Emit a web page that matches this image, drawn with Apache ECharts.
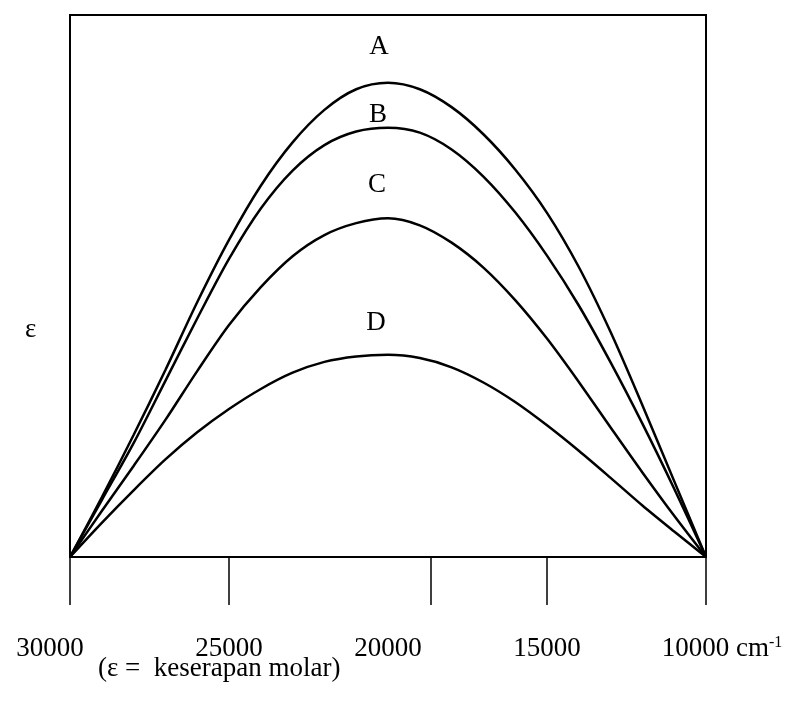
<!DOCTYPE html>
<html>
<head>
<meta charset="utf-8">
<script src="https://cdn.jsdelivr.net/npm/echarts@6/dist/echarts.min.js"></script>
<style>
  html, body { margin: 0; padding: 0; background: #fff; }
  #main { width: 793px; height: 706px; }
</style>
</head>
<body>
<div id="main"></div>
<script>
// bilangan gelombang (cm-1), sumbu x dibalik: 30000 di kiri
var wavenumbers = [30000, 29000, 28000, 27000, 26000, 25000, 24000, 23000, 22000, 21000, 20000,
  19000, 18000, 17000, 16000, 15000, 14000, 13000, 12000, 11000, 10000];
// nilai epsilon (skala relatif)
var curveA = [0, 11, 22.5, 34.5, 47, 58.5, 68.5, 76.5, 82.5, 86.3, 87.5, 86.3, 83, 78, 71.5, 63.5, 53.5, 41.5, 28, 14, 0];
var curveB = [0, 10.5, 21, 32.5, 44, 55, 64.3, 71.3, 76, 78.5, 79.2, 78.3, 75.2, 70.2, 63.6, 55.6, 46.4, 35.9, 24.6, 12.6, 0];
var curveC = [0, 8.5, 16.8, 25.3, 34.3, 42.8, 49.8, 55.5, 59.4, 61.6, 62.5, 61.2, 58, 53.4, 47.4, 40.3, 32.3, 23.9, 15.6, 7.6, 0];
var curveD = [0, 6.3, 12.3, 18, 23, 27.3, 31, 34, 36, 37, 37.3, 36.7, 35, 32.2, 28.6, 24.3, 19.6, 14.6, 9.5, 4.7, 0];
var curveNames = ['A', 'B', 'C', 'D'];
var tickValues = [30000, 25000, 18650, 15000, 10000];
var labelValues = [30000, 25000, 20000, 15000, 10000];

var font = 'Liberation Serif, Times New Roman, serif';
var chart = echarts.init(document.getElementById('main'));

// geser label huruf di atas puncak kurva
var labelOffsets = [[-9, -17], [-10, 6], [-11, -14], [-12, -13]];

function makeSeries(name, values, idx) {
  var data = wavenumbers.map(function (w, i) {
    var item = { value: [w, values[i]] };
    if (w === 20000) {
      item.label = {
        show: true,
        formatter: name,
        position: 'top',
        offset: labelOffsets[idx],
        color: '#000',
        fontFamily: font,
        fontSize: 27
      };
    }
    return item;
  });
  return {
    name: name,
    type: 'line',
    smooth: 0.3,
    symbol: 'circle',
    symbolSize: 1,
    showSymbol: true,
    lineStyle: { color: '#000', width: 2.5 },
    itemStyle: { color: 'rgba(0,0,0,0)', borderWidth: 0 },
    label: { show: false },
    emphasis: { disabled: true },
    data: data
  };
}

var option = {
  animation: false,
  backgroundColor: '#fff',
  grid: {
    left: 70,
    right: 87,
    top: 15,
    bottom: 149,
    show: true,
    borderColor: '#000',
    borderWidth: 2
  },
  xAxis: {
    type: 'value',
    min: 10000,
    max: 30000,
    interval: 5000,
    inverse: true,
    splitLine: { show: false },
    axisLine: { show: true, lineStyle: { color: '#000', width: 2 } },
    axisTick: {
      show: true,
      length: 48,
      customValues: tickValues,
      lineStyle: { color: '#000', width: 1.5 }
    },
    axisLabel: {
      margin: 78,
      customValues: labelValues,
      color: '#000',
      fontFamily: font,
      fontSize: 27,
      formatter: function (v) {
        if (v === 30000) return '{l|30000}';
        if (v === 10000) return '{r|10000 cm}{s|-1}';
        return String(v);
      },
      rich: {
        l: { fontFamily: font, fontSize: 27, color: '#000', padding: [0, 40, 0, 0] },
        r: { fontFamily: font, fontSize: 27, color: '#000', padding: [0, 0, 0, 32] },
        s: { fontFamily: font, fontSize: 16, color: '#000', verticalAlign: 'top', padding: [0, 0, 12, 0] }
      }
    }
  },
  yAxis: {
    type: 'value',
    min: 0,
    max: 100,
    show: false
  },
  graphic: [
    {
      type: 'text',
      left: 25,
      top: 316,
      style: { text: 'ε', font: '27px ' + font, fill: '#000' }
    },
    {
      type: 'text',
      left: 98,
      top: 655,
      style: { text: '(ε =  keserapan molar)', font: '27px ' + font, fill: '#000' }
    }
  ],
  series: [
    makeSeries(curveNames[0], curveA, 0),
    makeSeries(curveNames[1], curveB, 1),
    makeSeries(curveNames[2], curveC, 2),
    makeSeries(curveNames[3], curveD, 3)
  ]
};

chart.setOption(option);
</script>
</body>
</html>
